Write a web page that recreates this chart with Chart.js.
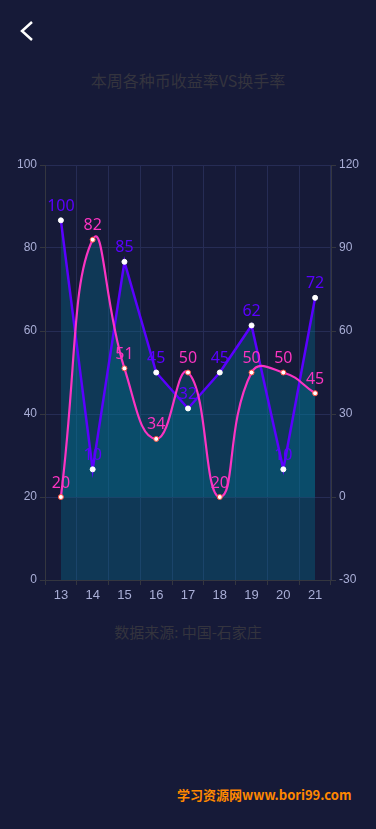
<!DOCTYPE html>
<html>
<head>
<meta charset="utf-8">
<script src="https://cdn.jsdelivr.net/npm/chart.js@4/dist/chart.umd.min.js"></script>
<style>
  html, body { margin: 0; padding: 0; }
  body { width: 376px; height: 829px; background: #161a38; position: relative; overflow: hidden; font-family: "Noto Sans CJK SC", "Noto Sans", sans-serif; }
  .back { position: absolute; left: 19px; top: 19px; }
  .title { position: absolute; top: 68px; left: 0; width: 376px; text-align: center; color: #34343e; font-size: 16px; }
  .source { position: absolute; top: 621px; left: 0; width: 376px; text-align: center; color: #34343e; font-size: 15px; }
  .mark { position: absolute; top: 785px; left: 177px; color: #ff8800; font-size: 13px; font-weight: bold; white-space: nowrap; }
  #chart { position: absolute; left: 0; top: 140px; }
</style>
</head>
<body>
<svg class="back" width="18" height="26" viewBox="0 0 18 26"><polyline points="13,3 3,12 13,21" fill="none" stroke="#fff" stroke-width="2.5"/></svg>
<div class="title">本周各种币收益率VS换手率</div>
<canvas id="chart" width="376" height="480"></canvas>
<div class="source">数据来源: 中国-石家庄</div>
<div class="mark">学习资源网www.bori99.com</div>
<script>
const days = ["13", "14", "15", "16", "17", "18", "19", "20", "21"];
const returnRate = [100, 10, 85, 45, 32, 45, 62, 10, 72];   // right axis, straight purple line
const turnover = [20, 82, 51, 34, 50, 20, 50, 50, 45];       // left axis, smooth pink line

const purple = "#5a00ff";
const pink = "#fb34c2";
const areaFill = "rgba(0,125,155,0.3)";
const gridColor = "#262c55";
const axisColor = "#34363f";
const tickColor = "#a9aed6";

// value labels above every point, coloured like the line
const pointLabels = {
  id: "pointLabels",
  afterDatasetsDraw(chart) {
    const ctx = chart.ctx;
    ctx.save();
    ctx.font = "16px 'Noto Sans', sans-serif";
    ctx.textAlign = "center";
    ctx.textBaseline = "bottom";
    chart.data.datasets.forEach((ds, i) => {
      ctx.fillStyle = ds.borderColor;
      chart.getDatasetMeta(i).data.forEach((pt, j) => {
        ctx.fillText(ds.data[j], pt.x, pt.y - 6);
      });
    });
    ctx.restore();
  }
};

new Chart(document.getElementById("chart"), {
  type: "line",
  data: {
    labels: days,
    datasets: [
      {
        label: "收益率",
        data: returnRate,
        yAxisID: "y1",
        order: 2,
        borderColor: purple,
        borderWidth: 2.5,
        tension: 0,
        fill: "origin",
        backgroundColor: areaFill,
        pointRadius: 2.5,
        pointBorderWidth: 1,
        pointBackgroundColor: "#ffffff",
        pointBorderColor: "#ffffff"
      },
      {
        label: "换手率",
        data: turnover,
        yAxisID: "y",
        order: 1,
        borderColor: pink,
        borderWidth: 2.2,
        tension: 0.5,
        fill: "origin",
        backgroundColor: areaFill,
        pointRadius: 2.5,
        pointBorderWidth: 1,
        pointBackgroundColor: "#ffffff",
        pointBorderColor: "#ff5040"
      }
    ]
  },
  options: {
    responsive: false,
    animation: false,
    layout: { padding: { top: 25, left: 0, right: 0, bottom: 0 } },
    plugins: {
      legend: { display: false },
      tooltip: { enabled: false },
      filler: { drawTime: "beforeDatasetsDraw" }
    },
    scales: {
      x: {
        offset: true,
        grid: { offset: true, color: gridColor, tickColor: axisColor, tickLength: 5 },
        border: { color: axisColor },
        ticks: { color: tickColor, font: { size: 13 }, padding: 3, maxRotation: 0 },
        afterFit: scale => { scale.height = 40; }
      },
      y: {
        position: "left",
        min: 0,
        max: 100,
        grid: { color: gridColor, tickColor: axisColor, tickLength: 5 },
        border: { color: axisColor },
        ticks: { stepSize: 20, color: tickColor, font: { size: 12 }, padding: 3 },
        afterFit: scale => { scale.width = 45; }
      },
      y1: {
        position: "right",
        min: -30,
        max: 120,
        grid: { drawOnChartArea: false, tickColor: axisColor, tickLength: 5 },
        border: { color: axisColor },
        ticks: { stepSize: 30, color: tickColor, font: { size: 12 }, padding: 3 },
        afterFit: scale => { scale.width = 45; }
      }
    }
  },
  plugins: [pointLabels]
});
</script>
</body>
</html>
